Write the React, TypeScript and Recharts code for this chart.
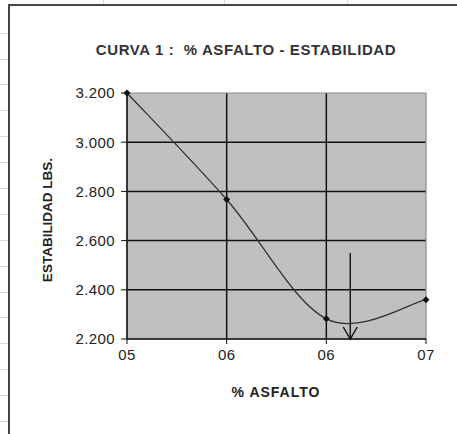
import React from "react";
import {
  CartesianGrid,
  Line,
  LineChart,
  ReferenceArea,
  ReferenceLine,
  XAxis,
  YAxis,
} from "recharts";

// % asfalto vs estabilidad (lbs)
const asfalto = [5, 5.5, 6, 6.5];
const estabilidad = [3200, 2767, 2282, 2360];
const xTicks = [5, 5.5, 6, 6.5];
const yTicks = [2200, 2400, 2600, 2800, 3000, 3200];

// flecha del % optimo
const optimo = 6.12;
const flechaDesde = 2550;
const flechaHasta = 2200;

const data = asfalto.map((x, i) => ({ x, y: estabilidad[i] }));

const font = "'Liberation Sans', Arial, sans-serif";
const sheetRows = [33, 59, 84, 110, 136, 162, 188, 214, 240, 266, 292, 317, 343, 369, 395, 421];
const sheetCols = [103, 224, 347];

// suavizado tipo Excel (catmull-rom a bezier)
function excelSmooth(context: any) {
  let pts: number[][] = [];
  return {
    areaStart() {},
    areaEnd() {},
    lineStart() {
      pts = [];
    },
    point(x: number, y: number) {
      pts.push([+x, +y]);
    },
    lineEnd() {
      if (!pts.length) return;
      context.moveTo(pts[0][0], pts[0][1]);
      for (let i = 0; i < pts.length - 1; i++) {
        const p0 = pts[Math.max(i - 1, 0)];
        const p1 = pts[i];
        const p2 = pts[i + 1];
        const p3 = pts[Math.min(i + 2, pts.length - 1)];
        context.bezierCurveTo(
          p1[0] + (p2[0] - p0[0]) / 6,
          p1[1] + (p2[1] - p0[1]) / 6,
          p2[0] - (p3[0] - p1[0]) / 6,
          p2[1] - (p3[1] - p1[1]) / 6,
          p2[0],
          p2[1]
        );
      }
    },
  };
}

function Diamond(props: any) {
  const { cx, cy } = props;
  if (cx == null || cy == null) return null;
  const r = 3.5;
  return (
    <polygon
      points={`${cx},${cy - r} ${cx + r},${cy} ${cx},${cy + r} ${cx - r},${cy}`}
      fill="#111"
    />
  );
}

function Arrow(props: any) {
  const { x1, y1, x2, y2 } = props;
  return (
    <g stroke="#111" strokeWidth={1.4} fill="none">
      <line x1={x1} y1={y1} x2={x2} y2={y2} />
      <polyline points={`${x2 - 7},${y2 - 12} ${x2},${y2} ${x2 + 7},${y2 - 12}`} />
    </g>
  );
}

export default function App() {
  return (
    <div style={{ position: "absolute", left: 0, top: 0, width: 457, height: 434, background: "#fff", overflow: "hidden" }}>
      {sheetRows.map((y) => (
        <div key={y} style={{ position: "absolute", left: 0, top: y, width: 9, height: 1, background: "#d8d8d8" }} />
      ))}
      {sheetCols.map((x) => (
        <div key={x} style={{ position: "absolute", left: x, top: 0, width: 1, height: 5, background: "#d8d8d8" }} />
      ))}
      <div
        style={{
          position: "absolute",
          left: 8,
          top: 4,
          width: 460,
          height: 440,
          borderLeft: "2px solid #444",
          borderTop: "2px solid #444",
          background: "#fff",
        }}
      />
      <div
        style={{
          position: "absolute",
          left: 46,
          width: 400,
          top: 41,
          textAlign: "center",
          fontFamily: font,
          fontWeight: "bold",
          fontSize: 15,
          letterSpacing: 0.6,
          color: "#333",
        }}
      >
        CURVA 1 :&nbsp; % ASFALTO - ESTABILIDAD
      </div>
      <div
        style={{
          position: "absolute",
          left: 47,
          top: 220,
          transform: "translate(-50%, -50%) rotate(-90deg)",
          whiteSpace: "nowrap",
          fontFamily: font,
          fontWeight: "bold",
          fontSize: 13.5,
          color: "#222",
        }}
      >
        ESTABILIDAD LBS.
      </div>
      <div
        style={{
          position: "absolute",
          left: 176,
          width: 200,
          top: 384,
          textAlign: "center",
          fontFamily: font,
          fontWeight: "bold",
          fontSize: 14,
          letterSpacing: 1,
          color: "#222",
        }}
      >
        % ASFALTO
      </div>
      <div style={{ position: "absolute", left: 0, top: 0 }}>
        <LineChart width={457} height={434} data={data} margin={{ top: 93, right: 31, bottom: 65, left: 0 }}>
          <CartesianGrid
            fill="#c0c0c0"
            fillOpacity={1}
            stroke="#111"
            strokeWidth={1.5}
            horizontalValues={[2400, 2600, 2800, 3000]}
            verticalValues={[5.5, 6]}
          />
          <ReferenceArea
            x1={5}
            x2={6.5}
            y1={2200}
            y2={3200}
            fill="none"
            stroke="#8a8a8a"
            strokeWidth={1.2}
            fillOpacity={0}
          />
          <XAxis
            dataKey="x"
            type="number"
            domain={[5, 6.5]}
            ticks={xTicks}
            tickFormatter={(v: number) => "0" + Math.round(v)}
            height={30}
            tickSize={5}
            tickMargin={5}
            stroke="#111"
            axisLine={{ stroke: "#111", strokeWidth: 1.5 }}
            tick={{ fill: "#222", fontSize: 15, fontFamily: font, letterSpacing: 0.4 }}
          />
          <YAxis
            type="number"
            domain={[2200, 3200]}
            ticks={yTicks}
            tickFormatter={(v: number) => (v / 1000).toFixed(3)}
            width={127}
            tickSize={6}
            tickMargin={6}
            stroke="#111"
            axisLine={{ stroke: "#111", strokeWidth: 1.5 }}
            tick={{ fill: "#222", fontSize: 15, fontFamily: font, letterSpacing: 0.4 }}
          />
          <ReferenceLine
            segment={[
              { x: optimo, y: flechaDesde },
              { x: optimo, y: flechaHasta },
            ]}
            shape={Arrow}
          />
          <Line
            type={excelSmooth as any}
            dataKey="y"
            stroke="#333"
            strokeWidth={1.3}
            dot={<Diamond />}
            activeDot={false}
            isAnimationActive={false}
          />
        </LineChart>
      </div>
    </div>
  );
}
